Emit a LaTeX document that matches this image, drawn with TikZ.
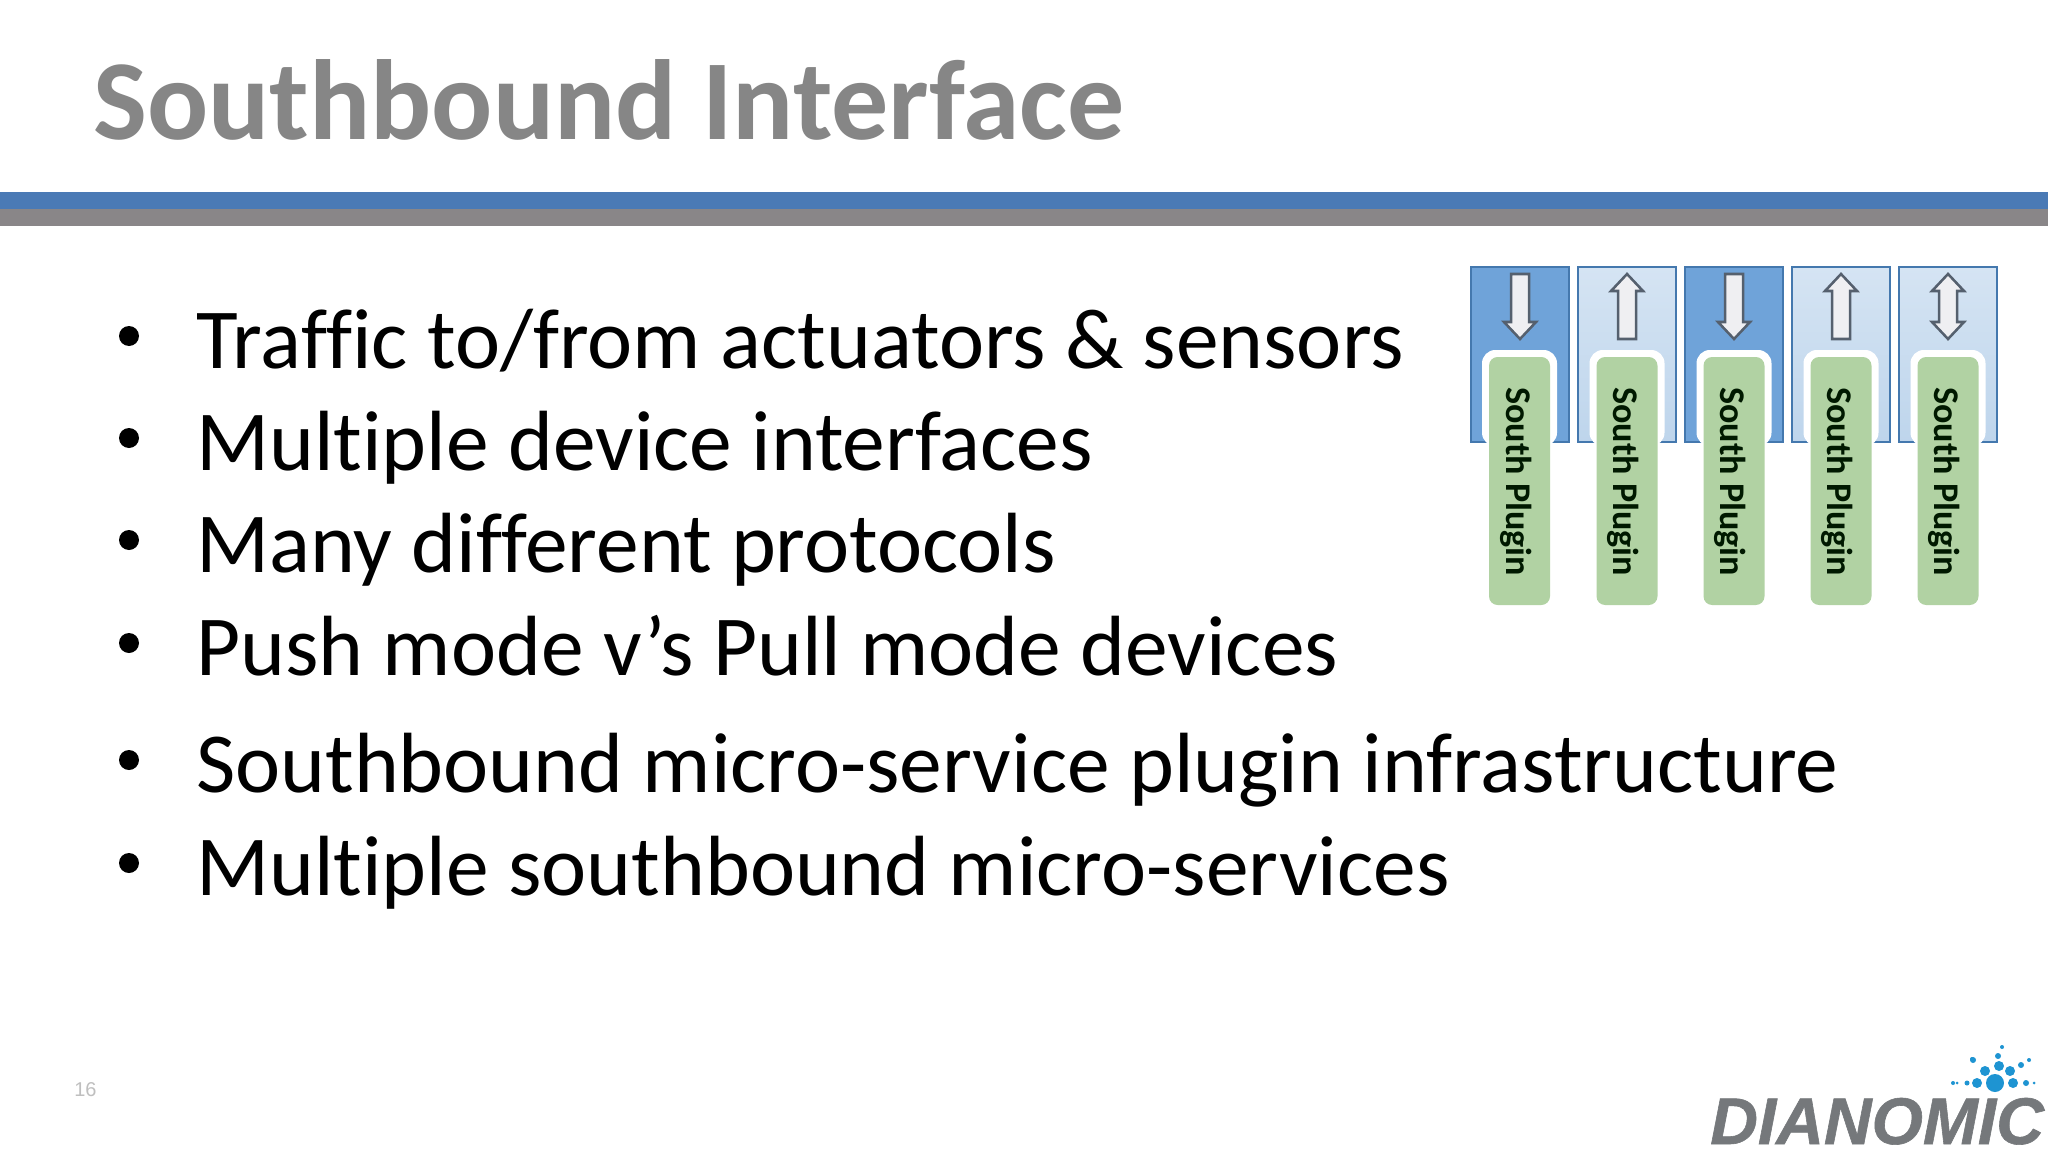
\documentclass[tikz,border=0pt]{standalone}
\usepackage{fontspec}
\setmainfont[Ligatures=NoCommon]{Carlito}
\newfontfamily\logofont[BoldItalicFeatures={FakeBold=0.9}]{Liberation Sans}
\definecolor{titlegray}{HTML}{868686}
\definecolor{barblue}{HTML}{4A7AB5}
\definecolor{bargray}{HTML}{898688}
\definecolor{boxedge}{HTML}{4478AE}
\definecolor{boxdark}{HTML}{6FA3D9}
\definecolor{boxlightA}{HTML}{D5E4F3}
\definecolor{boxlightB}{HTML}{BED5EC}
\definecolor{plugin}{HTML}{B1D2A3}
\definecolor{arrowedge}{HTML}{55606E}
\definecolor{arrowfill}{HTML}{EFEFF2}
\definecolor{logogray}{HTML}{75787B}
\definecolor{logoblue}{HTML}{1E94D2}
\tikzset{
  x=0.75pt,y=-0.75pt,
  bodytext/.style={anchor=base west,inner sep=0pt,font=\fontsize{64.1}{64.1}\selectfont,text=black},
  bulletmark/.style={circle,fill=black,inner sep=0pt,minimum size=20*0.75pt},
  darkbox/.style={draw=boxedge,line width=2pt,fill=boxdark},
  lightbox/.style={draw=boxedge,line width=2pt,top color=boxlightA,bottom color=boxlightB},
  halo/.style={fill=white,rounded corners=10pt},
  pluginbox/.style={fill=plugin,rounded corners=6.5pt},
  plugintext/.style={rotate=-90,anchor=base west,inner sep=0pt,font=\bfseries\fontsize{27.1}{27.1}\selectfont,text=black!90!green},
  flowarrow/.style={draw=arrowedge,line width=1.9pt,fill=arrowfill,line join=miter},
  dot/.style={fill=logoblue},
}
\newcommand{\darrow}[1]{\draw[flowarrow] (#1-9,274)--(#1+9,274)--(#1+9,322)--(#1+16,322)--(#1,339)--(#1-16,322)--(#1-9,322)--cycle;}
\newcommand{\uarrow}[1]{\draw[flowarrow] (#1-9,339)--(#1+9,339)--(#1+9,291)--(#1+16,291)--(#1,274)--(#1-16,291)--(#1-9,291)--cycle;}
\newcommand{\udarrow}[1]{\draw[flowarrow] (#1,274)--(#1+16,291)--(#1+9,291)--(#1+9,322)--(#1+16,322)--(#1,339)--(#1-16,322)--(#1-9,322)--(#1-9,291)--(#1-16,291)--cycle;}
\begin{document}
\begin{tikzpicture}
\useasboundingbox (0,0) rectangle (2048,1152);
\fill[white] (0,0) rectangle (2048,1152);
% title
\node[anchor=base west,inner sep=0pt,text=titlegray,font=\bfseries\fontsize{85.5}{85.5}\selectfont] (title) at (93,140) {Southbound Interface};
% bars
\fill[barblue] (0,192) rectangle (2048,209);
\fill[bargray] (0,209) rectangle (2048,226);
% bullets
\foreach \n/\y/\t in {1/368/{Traffic to/from actuators \& sensors},
                      2/470/{Multiple device interfaces},
                      3/572/{Many different protocols},
                      4/675/{Push mode v’s Pull mode devices},
                      5/792/{Southbound micro-service plugin infrastructure},
                      6/895/{Multiple southbound micro-services}}{
  \node[bulletmark] (b\n) at (129,\y-32) {};
  \node[bodytext] (t\n) at (196,\y) {\t};
}
% top boxes
\draw[darkbox]  (1471,267) rectangle (1569,442);
\draw[lightbox] (1578,267) rectangle (1676,442);
\draw[darkbox]  (1685,267) rectangle (1783,442);
\draw[lightbox] (1792,267) rectangle (1890,442);
\draw[lightbox] (1899,267) rectangle (1997,442);
% arrows
\darrow{1520}
\uarrow{1627}
\darrow{1734}
\uarrow{1841}
\udarrow{1948}
% plugins
\foreach \i/\x in {1/1489,2/1596.5,3/1703.5,4/1810.5,5/1917.5}{
  \fill[halo] (\x-7,350) rectangle (\x+68,446);
  \fill[pluginbox] (\x,357) rectangle (\x+61,605);
  \node[plugintext] (p\i) at (\x+17,387) {South Plugin};
}
% page number
\node[anchor=base west,inner sep=0pt,text=black!25,font=\logofont\fontsize{15}{15}\selectfont] (page) at (74,1096) {16};
% logo
\node[anchor=base west,inner sep=0pt,text=logogray,font=\logofont\bfseries\itshape\fontsize{49.5}{49.5}\selectfont] (logo) at (1710,1144) {DIANOMIC};
\foreach \x/\y/\r in {1995/1083/9,1977/1083/5,1953/1083/2,1967/1083/2.5,1957/1083/1.5,2013/1083/5,2026/1083/3,2034/1083/1.5,
                      1985/1071/5,2010/1071/5,1999/1066/5,1973/1060/3,1972/1059/2,2021/1065/3,2029/1060/2,1998/1056/3,2002/1047/2}{
  \fill[dot] (\x,\y) circle[radius=\r*0.75pt];
}
\end{tikzpicture}
\end{document}
